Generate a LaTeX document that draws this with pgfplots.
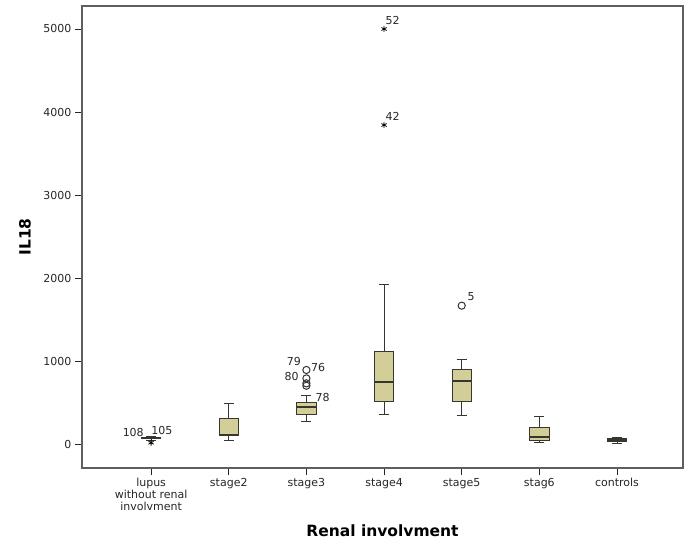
\documentclass[border=0pt]{standalone}
\usepackage{fontspec}
\setmainfont{DejaVu Sans}
\usepackage{pgfplots}
\pgfplotsset{compat=1.18}
\usepgfplotslibrary{statistics}
\definecolor{boxfill}{RGB}{211,206,151}
\definecolor{boxedge}{RGB}{55,55,50}
\definecolor{framegray}{RGB}{95,95,95}
\newcommand{\tickfont}{\fontsize{11}{12}\selectfont}
\newcommand{\labfont}{\bfseries\fontsize{15.5}{17}\selectfont}

\begin{document}
\begin{tikzpicture}
\begin{axis}[
  scale only axis, width=601pt, height=462pt,
  xmin=-0.89, xmax=6.85, ymin=-289, ymax=5277,
  axis line style={framegray, line width=1.2pt},
  tick align=outside, xtick pos=bottom, ytick pos=left,
  major tick length=7pt, tick style={black!85, line width=0.9pt},
  xtick={0,...,6},
  xticklabels={{lupus\\without renal\\involvment},stage2,stage3,stage4,stage5,stag6,controls},
  xticklabel style={align=center, font=\tickfont, text=black!85},
  ytick={0,1000,...,5000},
  yticklabel style={font=\tickfont, text=black!85},
  /pgf/number format/assume math mode=true,
  /pgf/number format/set thousands separator={},
  xlabel={Renal involvment}, ylabel={IL18},
  xlabel style={at={(axis description cs:0.5,-0.136)}, anchor=center, font=\labfont},
  ylabel style={at={(axis description cs:-0.095,0.5)}, anchor=center, font=\labfont},
  boxplot/draw direction=y,
  boxplot/box extend=0.25,
  boxplot/whisker extend=0.13,
  boxplot/every median/.style={line width=2pt},
]
% boxes
\addplot[draw=boxedge, fill=boxfill, line width=0.8pt, boxplot prepared={draw position=0,
  lower whisker=45, lower quartile=62, median=74, upper quartile=84, upper whisker=95}] coordinates {};
\addplot[draw=boxedge, fill=boxfill, line width=0.8pt, boxplot prepared={draw position=1,
  lower whisker=48, lower quartile=100, median=112, upper quartile=305, upper whisker=490}] coordinates {};
\addplot[draw=boxedge, fill=boxfill, line width=0.8pt, boxplot prepared={draw position=2,
  lower whisker=277, lower quartile=361, median=450, upper quartile=498, upper whisker=590}] coordinates {};
\addplot[draw=boxedge, fill=boxfill, line width=0.8pt, boxplot prepared={draw position=3,
  lower whisker=361, lower quartile=514, median=751, upper quartile=1120, upper whisker=1924}] coordinates {};
\addplot[draw=boxedge, fill=boxfill, line width=0.8pt, boxplot prepared={draw position=4,
  lower whisker=341, lower quartile=518, median=759, upper quartile=900, upper whisker=1020}] coordinates {};
\addplot[draw=boxedge, fill=boxfill, line width=0.8pt, boxplot prepared={draw position=5,
  lower whisker=16, lower quartile=45, median=81, upper quartile=205, upper whisker=329}] coordinates {};
\addplot[draw=boxedge, fill=boxfill, line width=0.8pt, boxplot prepared={draw position=6,
  lower whisker=4, lower quartile=36, median=52, upper quartile=66, upper whisker=81}] coordinates {};

% extreme values
\addplot[only marks, mark=asterisk, mark size=3pt, black, line width=0.8pt] coordinates {
  (0,16) (3,5000) (3,3843)
};
% outliers
\addplot[only marks, mark=o, mark size=3.6pt, black!80, line width=1pt] coordinates {
  (2,892) (2,791) (2,731) (2,702) (4,1667)
};

% case labels
\addplot[draw=none, mark=none, nodes near coords, point meta=explicit symbolic,
  every node near coord/.append style={anchor=center, font=\tickfont, text=black!85}]
  table[meta=lab, row sep=\\] {
  x y lab\\
  -0.23 133 108\\
  0.14 157 105\\
  1.84 1000 79\\
  2.15 916 76\\
  1.81 819 80\\
  2.21 566 78\\
  3.11 5108 52\\
  3.11 3952 42\\
  4.12 1771 5\\
};

\coordinate (bl) at (rel axis cs:0,0);
\coordinate (tr) at (rel axis cs:1,1);
\end{axis}
\path ([shift={(-82pt,-83pt)}]bl) rectangle ([shift={(10pt,6pt)}]tr);
\end{tikzpicture}
\end{document}
